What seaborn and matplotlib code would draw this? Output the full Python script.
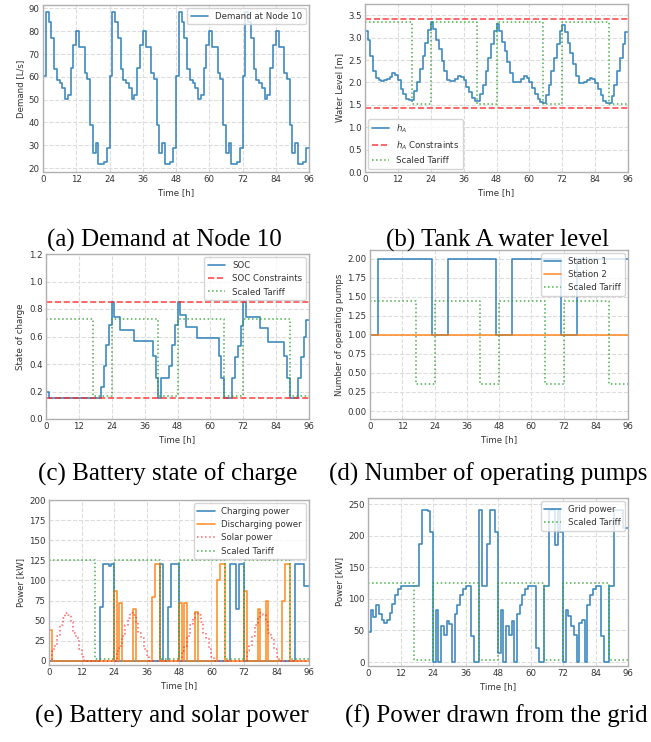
import matplotlib
matplotlib.use("Agg")
import matplotlib.pyplot as plt
import seaborn as sns

# ---------------- data (hourly, 96 h) ----------------
hours = list(range(97))

demand = [
    60.5, 88.5, 84, 77, 63.5, 58.5, 57.5, 55, 50.5, 52, 64, 74, 80, 73, 73, 61.5, 59, 39, 26.5, 31, 22, 22, 22.5, 29,
    60.5, 88.5, 84, 77, 63.5, 58.5, 57.5, 55, 50.5, 52, 64, 74, 80, 73, 73, 61.5, 59, 39, 26.5, 31, 22, 22, 22.5, 29,
    60.5, 88.5, 84, 77, 63.5, 58.5, 57.5, 55, 50.5, 52, 64, 74, 80, 73, 73, 61.5, 59, 39, 26.5, 31, 22, 22, 22.5, 29,
    60.5, 88.5, 84, 77, 63.5, 58.5, 57.5, 55, 50.5, 52, 64, 74, 80, 73, 73, 61.5, 59, 39, 26.5, 31, 22, 22, 22.5, 29,
]

h_A = [
    3.15, 2.95, 2.60, 2.25, 2.10, 2.05, 2.04, 2.05, 2.08, 2.12, 2.20, 2.17,
    2.05, 1.85, 1.75, 1.62, 1.60, 1.60, 1.80, 2.00, 2.30, 2.58, 2.88, 3.18,
    3.35, 3.20, 2.95, 2.75, 2.48, 2.25, 2.05, 2.03, 2.03, 2.08, 2.15, 2.12,
    2.05, 1.90, 1.78, 1.65, 1.58, 1.58, 1.75, 1.95, 2.25, 2.55, 2.85, 3.15,
    3.30, 3.15, 2.90, 2.70, 2.45, 2.20, 2.02, 2.00, 2.02, 2.08, 2.15, 2.10,
    2.02, 1.88, 1.75, 1.62, 1.56, 1.55, 1.72, 1.95, 2.25, 2.55, 2.85, 3.15,
    3.28, 3.12, 2.88, 2.65, 2.40, 2.15, 1.98, 1.98, 2.00, 2.05, 2.10, 2.07,
    1.98, 1.85, 1.72, 1.58, 1.53, 1.53, 1.70, 1.95, 2.25, 2.55, 2.85, 3.13,
]
h_A_limits = [1.43, 3.42]

soc = [
    0.20, 0.15, 0.15, 0.15, 0.15, 0.15, 0.15, 0.15, 0.15, 0.15, 0.15, 0.15,
    0.15, 0.15, 0.15, 0.15, 0.15, 0.15, 0.15, 0.15, 0.235, 0.385, 0.535, 0.685,
    0.85, 0.74, 0.74, 0.65, 0.65, 0.65, 0.65, 0.65, 0.57, 0.57, 0.57, 0.57,
    0.57, 0.57, 0.57, 0.46, 0.30, 0.15, 0.30, 0.30, 0.30, 0.385, 0.535, 0.685,
    0.85, 0.76, 0.76, 0.67, 0.67, 0.67, 0.67, 0.59, 0.59, 0.59, 0.59, 0.59,
    0.59, 0.59, 0.59, 0.46, 0.30, 0.15, 0.15, 0.15, 0.30, 0.45, 0.53, 0.68,
    0.85, 0.74, 0.74, 0.74, 0.74, 0.74, 0.66, 0.66, 0.66, 0.56, 0.56, 0.56,
    0.56, 0.56, 0.56, 0.46, 0.30, 0.15, 0.15, 0.15, 0.30, 0.45, 0.60, 0.72,
]
soc_limits = [0.15, 0.85]

station1 = [
    1, 1, 1, 2, 2, 2, 2, 2, 2, 2, 2, 2, 2, 2, 2, 2, 2, 2, 2, 2, 2, 2, 2, 1,
    1, 1, 1, 1, 1, 2, 2, 2, 2, 2, 2, 2, 2, 2, 2, 2, 2, 2, 2, 2, 2, 2, 2, 1,
    1, 1, 1, 1, 1, 2, 2, 2, 2, 2, 2, 2, 2, 2, 2, 2, 2, 2, 2, 2, 2, 2, 2, 1,
    1, 1, 1, 1, 1, 2, 2, 2, 2, 2, 2, 2, 2, 2, 2, 2, 2, 2, 2, 2, 2, 2, 2, 2,
]
station2 = [1] * 96

charging = [
    0, 0, 0, 0, 0, 0, 0, 0, 0, 0, 0, 0, 0, 0, 0, 0, 0, 0, 0, 67, 120, 120, 118, 120,
    0, 0, 0, 0, 0, 0, 0, 0, 0, 0, 0, 0, 0, 0, 0, 0, 0, 120, 0, 0, 67, 120, 120, 120,
    0, 0, 0, 0, 0, 0, 0, 0, 0, 0, 0, 0, 0, 0, 0, 0, 0, 0, 0, 120, 120, 65, 120, 120,
    0, 0, 0, 0, 0, 0, 0, 0, 0, 0, 0, 0, 0, 0, 0, 0, 0, 0, 0, 120, 120, 120, 93, 93,
]
discharging = [
    39, 0, 0, 0, 0, 0, 0, 0, 0, 0, 0, 0, 0, 0, 0, 0, 0, 0, 0, 0, 0, 0, 0, 0,
    87, 0, 72, 0, 0, 0, 0, 65, 0, 0, 0, 0, 0, 0, 80, 120, 120, 0, 0, 0, 0, 0, 0, 0,
    72, 0, 72, 0, 0, 0, 61, 0, 0, 0, 0, 0, 0, 0, 100, 120, 120, 0, 0, 0, 0, 0, 0, 0,
    87, 0, 0, 0, 0, 65, 0, 0, 75, 0, 0, 0, 0, 0, 75, 120, 120, 0, 0, 0, 0, 0, 0, 0,
]
solar = [
    0, 12, 18, 31, 45, 54, 60, 57, 49, 35, 28, 15, 5, 0, 0, 0, 0, 0, 0, 0, 0, 0, 0, 0,
    0, 12, 18, 31, 45, 54, 60, 57, 49, 35, 28, 15, 5, 0, 0, 0, 0, 0, 0, 0, 0, 0, 0, 0,
    0, 12, 18, 31, 45, 54, 60, 57, 49, 35, 28, 15, 5, 0, 0, 0, 0, 0, 0, 0, 0, 0, 0, 0,
    0, 12, 18, 31, 45, 54, 60, 57, 49, 35, 28, 15, 5, 0, 0, 0, 0, 0, 0, 0, 0, 0, 0, 0,
]
grid_power = [
    48, 83, 72, 91, 76, 67, 62, 66, 77, 92, 106, 116, 121, 121, 121, 121, 121, 121, 121, 187, 241, 241, 239, 206,
    0, 83, 0, 57, 43, 65, 61, 0, 76, 91, 106, 116, 121, 121, 42, 0, 0, 241, 121, 121, 187, 241, 241, 206,
    15, 83, 0, 57, 43, 65, 0, 76, 91, 106, 116, 121, 121, 121, 23, 0, 0, 121, 121, 241, 241, 185, 241, 206,
    0, 83, 73, 57, 43, 0, 62, 66, 0, 91, 106, 116, 121, 121, 42, 0, 0, 121, 121, 241, 241, 241, 213, 213,
]

# tariff: 1 = peak price, 0 = off-peak (17h-24h each day)
tariff_flag = [
    1, 1, 1, 1, 1, 1, 1, 1, 1, 1, 1, 1, 1, 1, 1, 1, 1, 0, 0, 0, 0, 0, 0, 0,
    1, 1, 1, 1, 1, 1, 1, 1, 1, 1, 1, 1, 1, 1, 1, 1, 1, 0, 0, 0, 0, 0, 0, 0,
    1, 1, 1, 1, 1, 1, 1, 1, 1, 1, 1, 1, 1, 1, 1, 1, 1, 0, 0, 0, 0, 0, 0, 0,
    1, 1, 1, 1, 1, 1, 1, 1, 1, 1, 1, 1, 1, 1, 1, 1, 1, 0, 0, 0, 0, 0, 0, 0,
]
# (off-peak, peak) levels of the scaled tariff in each panel
tariff_scale_b = (1.52, 3.35)
tariff_scale_c = (0.17, 0.73)
tariff_scale_d = (0.35, 1.45)
tariff_scale_e = (2.5, 125)
tariff_scale_f = (3.0, 126)

x_ticks = [0, 12, 24, 36, 48, 60, 72, 84, 96]
captions = ["(a) Demand at Node 10", "(b) Tank A water level",
            "(c) Battery state of charge", "(d) Number of operating pumps",
            "(e) Battery and solar power", "(f) Power drawn from the grid"]

# ---------------- style ----------------
sns.set_theme(style="whitegrid", rc={
    "grid.linestyle": "--",
    "grid.color": "#dcdcdc",
    "grid.linewidth": 0.8,
    "axes.edgecolor": "#b0b0b0",
    "axes.linewidth": 1.0,
    "xtick.major.size": 0,
    "ytick.major.size": 0,
    "xtick.major.pad": 2.5,
    "ytick.major.pad": 2.5,
})
plt.rcParams["font.family"] = ["DejaVu Sans"]
FS = 6.2
plt.rcParams.update({
    "xtick.labelsize": FS, "ytick.labelsize": FS, "axes.labelsize": FS,
    "legend.fontsize": FS, "text.color": "#333333", "axes.labelcolor": "#333333",
    "xtick.color": "#333333", "ytick.color": "#333333",
    "axes.labelpad": 2.5,
})

BLUE, ORANGE, GREEN, RED = "#1f77b4", "#ff7f0e", "#2ca02c", "#ff2020"
W, H = 651, 742
fig = plt.figure(figsize=(W / 100, H / 100), dpi=100)


def add_ax(l, r, t, b):
    return fig.add_axes([l / W, 1 - b / H, (r - l) / W, (b - t) / H])


def ext(v):
    return list(v) + [v[-1]]


def scaled(levels):
    lo, hi = levels
    return [lo + (hi - lo) * f for f in tariff_flag]


def step(ax, vals, color, label, ls="-", lw=1.2, alpha=0.85):
    sns.lineplot(x=hours, y=ext(vals), ax=ax, drawstyle="steps-post",
                 color=color, linestyle=ls, linewidth=lw, alpha=alpha,
                 label=label, estimator=None)


def finish(ax, ylabel, ylim, yticks, loc):
    ax.set_xlim(0, 96)
    ax.set_xticks(x_ticks)
    ax.set_ylim(*ylim)
    ax.set_yticks(yticks)
    ax.set_xlabel("Time [h]")
    ax.set_ylabel(ylabel)
    ax.legend(loc=loc, fontsize=FS, framealpha=0.8, borderaxespad=0.4)


# (a)
ax = add_ax(43, 309, 5, 172)
step(ax, demand, BLUE, "Demand at Node 10")
finish(ax, "Demand [L/s]", (18.3, 91.5), [20, 30, 40, 50, 60, 70, 80, 90], "upper right")

# (b)
ax = add_ax(365, 628, 4, 172)
step(ax, h_A, BLUE, "$h_A$")
for i, v in enumerate(h_A_limits):
    ax.axhline(v, color=RED, linestyle="--", linewidth=1.2, alpha=0.8,
               label="$h_A$ Constraints" if i == 0 else None)
step(ax, scaled(tariff_scale_b), GREEN, "Scaled Tariff", ls=":", lw=1.1)
finish(ax, "Water Level [m]", (0, 3.75), [0, 0.5, 1.0, 1.5, 2.0, 2.5, 3.0, 3.5], "lower left")

# (c)
ax = add_ax(46, 309, 254, 419)
step(ax, soc, BLUE, "SOC")
for i, v in enumerate(soc_limits):
    ax.axhline(v, color=RED, linestyle="--", linewidth=1.2, alpha=0.8,
               label="SOC Constraints" if i == 0 else None)
step(ax, scaled(tariff_scale_c), GREEN, "Scaled Tariff", ls=":", lw=1.1)
finish(ax, "State of charge", (0, 1.2), [0, 0.2, 0.4, 0.6, 0.8, 1.0, 1.2], "upper right")

# (d)
ax = add_ax(370, 628, 250, 419)
step(ax, station1, BLUE, "Station 1")
step(ax, station2, ORANGE, "Station 2")
step(ax, scaled(tariff_scale_d), GREEN, "Scaled Tariff", ls=":", lw=1.1)
finish(ax, "Number of operating pumps", (-0.105, 2.115),
       [0, 0.25, 0.5, 0.75, 1.0, 1.25, 1.5, 1.75, 2.0], "upper right")

# (e)
ax = add_ax(49, 309, 500, 665)
step(ax, charging, BLUE, "Charging power")
step(ax, discharging, ORANGE, "Discharging power")
step(ax, solar, RED, "Solar power", ls=":", lw=1.1, alpha=0.7)
step(ax, scaled(tariff_scale_e), GREEN, "Scaled Tariff", ls=":", lw=1.1)
finish(ax, "Power [kW]", (-5, 200), [0, 25, 50, 75, 100, 125, 150, 175, 200], "upper right")

# (f)
ax = add_ax(368, 628, 498, 666)
step(ax, grid_power, BLUE, "Grid power")
step(ax, scaled(tariff_scale_f), GREEN, "Scaled Tariff", ls=":", lw=1.1)
finish(ax, "Power [kW]", (-6.3, 260), [0, 50, 100, 150, 200, 250], "upper right")

# captions
cap_pos = [(164, 247), (497, 247), (168, 481), (488, 481), (172, 723), (496, 723)]
for (cx, cy), txt in zip(cap_pos, captions):
    fig.text(cx / W, 1 - cy / H, txt, ha="center", va="baseline",
             fontsize=18, family=["Liberation Serif", "DejaVu Serif"], color="black")

fig.savefig("out.png", dpi=100, facecolor="white")
